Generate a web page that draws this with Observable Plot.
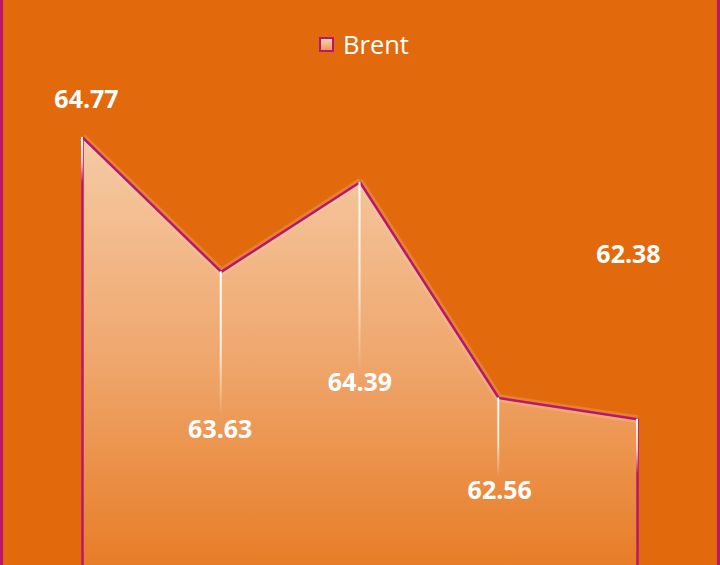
<!DOCTYPE html>
<html>
<head>
<meta charset="utf-8">
<script src="https://cdn.jsdelivr.net/npm/d3@7"></script>
<script src="https://cdn.jsdelivr.net/npm/@observablehq/plot@0.6"></script>
<style>
  html, body { margin: 0; padding: 0; background: #E2690C; }
  #wrap { position: relative; width: 720px; height: 565px; overflow: hidden; background: #E2690C; font-family: "Open Sans", sans-serif; }
  #chart { position: absolute; left: 0; top: 0; }
  .edge { position: absolute; top: 0; width: 3px; height: 565px; background: #B8176E; }
  #legend { position: absolute; top: 27px; left: 4px; width: 720px; display: flex; justify-content: center; align-items: center; color: #fff; font-size: 25.5px; }
  #legend .sw { width: 11px; height: 11px; border: 2px solid #B8176E; background: linear-gradient(#F7D2B0, #EC9A55); margin-right: 9px; }
</style>
</head>
<body>
<div id="wrap">
  <div id="chart"></div>
  <div id="legend"><span class="sw"></span><span id="legendName"></span></div>
  <div class="edge" style="left:0"></div>
  <div class="edge" style="right:0"></div>
</div>
<script>
const seriesName = "Brent";
const points = [0, 1, 2, 3, 4];
const brent = [64.77, 63.63, 64.39, 62.56, 62.38];
const yDomain = [61.14, 65.931];

document.getElementById("legendName").textContent = seriesName;

const rows = points.map((p, k) => ({i: p, v: brent[k], label: brent[k].toFixed(2)}));

const defs = () => {
  const d = d3.create("svg:defs");
  const a = d.append("linearGradient").attr("id", "areaGrad").attr("x1", 0).attr("y1", 0).attr("x2", 0).attr("y2", 1);
  a.append("stop").attr("offset", "0%").attr("stop-color", "#F5CBA5");
  a.append("stop").attr("offset", "50%").attr("stop-color", "#EFA66C");
  a.append("stop").attr("offset", "100%").attr("stop-color", "#E6781F");
  const g = d.append("linearGradient").attr("id", "dropGrad").attr("x1", 0).attr("y1", 0).attr("x2", 0).attr("y2", 1);
  g.append("stop").attr("offset", "0%").attr("stop-color", "#ffffff").attr("stop-opacity", 1);
  g.append("stop").attr("offset", "55%").attr("stop-color", "#ffffff").attr("stop-opacity", 0.75);
  g.append("stop").attr("offset", "100%").attr("stop-color", "#ffffff").attr("stop-opacity", 0);
  return d.node();
};

const dropLen = [45, 145, 190, 80, 55];
const drop = (k) => Plot.rect([rows[k]], {
  x1: "i", x2: "i", y1: "v", y2: "v",
  insetLeft: -1, insetRight: -1, insetBottom: -dropLen[k],
  fill: "url(#dropGrad)"
});

const lab = (k, dx, dy) => Plot.text([rows[k]], {
  x: "i", y: "v", text: "label", dx, dy,
  fill: "#ffffff", fontSize: 25, fontWeight: "bold",
  fontFamily: "Open Sans, sans-serif"
});

const chart = Plot.plot({
  width: 720,
  height: 565,
  marginTop: 0, marginBottom: 0, marginLeft: 82, marginRight: 83,
  x: {domain: [0, 4], axis: null},
  y: {domain: yDomain, axis: null},
  style: {background: "transparent", overflow: "hidden"},
  marks: [
    defs,
    Plot.areaY(rows, {x: "i", y1: yDomain[0] - 0.2, y2: "v", fill: "url(#areaGrad)"}),
    Plot.line(rows, {x: "i", y: "v", stroke: "#F8D6B8", strokeWidth: 8, strokeOpacity: 0.22, strokeLinejoin: "miter", strokeLinecap: "butt"}),
    Plot.ruleX([rows[0], rows[4]], {x: "i", y1: "v", y2: yDomain[0] - 0.2, stroke: "#B8176E", strokeWidth: 2.5}),
    Plot.line(rows, {x: "i", y: "v", stroke: "#B8176E", strokeWidth: 2.5, strokeLinejoin: "miter", strokeLinecap: "butt"}),
    ...points.map((p, k) => drop(k)),
    lab(0, 4, -37),
    lab(1, -1, 158),
    lab(2, 0, 201),
    lab(3, 1, 93),
    lab(4, -9, -164)
  ]
});
document.getElementById("chart").appendChild(chart);
</script>
</body>
</html>
